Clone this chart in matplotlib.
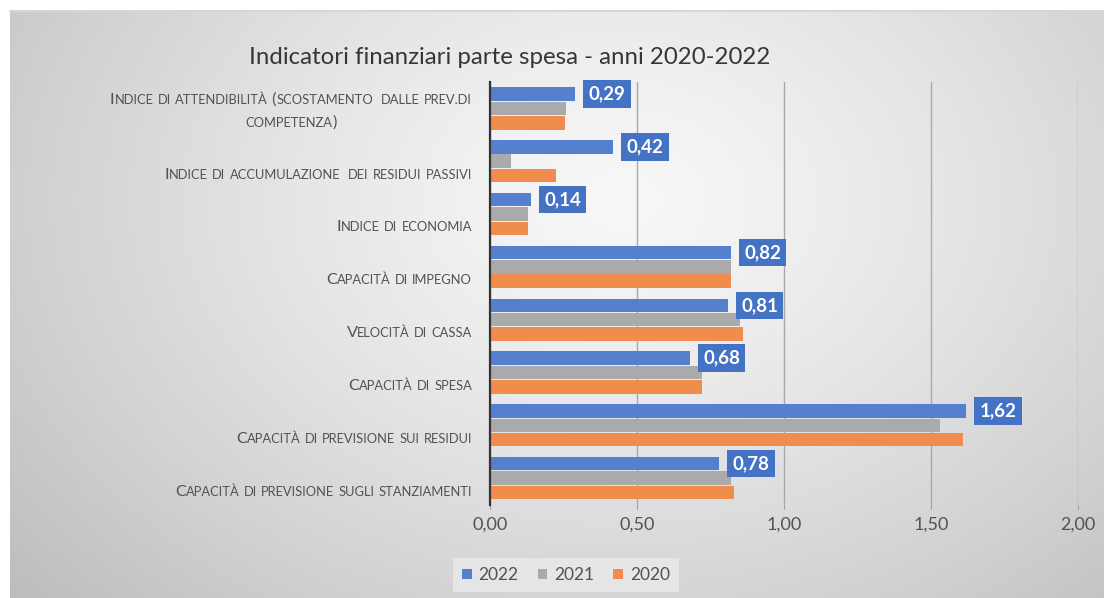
import numpy as np
import matplotlib
matplotlib.use("Agg")
import matplotlib.pyplot as plt
from matplotlib.offsetbox import TextArea, HPacker, VPacker, AnnotationBbox
from matplotlib.patches import Patch

categories = [
    "Indice di attendibilità (scostamento  dalle prev.di\ncompetenza)",
    "Indice di accumulazione  dei residui passivi",
    "Indice di economia",
    "Capacità di impegno",
    "Velocità di cassa",
    "Capacità di spesa",
    "Capacità di previsione sui residui",
    "Capacità di previsione sugli stanziamenti",
]
v2022 = [0.29, 0.42, 0.14, 0.82, 0.81, 0.68, 1.62, 0.78]
v2021 = [0.26, 0.07, 0.13, 0.82, 0.85, 0.72, 1.53, 0.82]
v2020 = [0.255, 0.225, 0.13, 0.82, 0.86, 0.72, 1.61, 0.83]
series_names = ["2022", "2021", "2020"]
xticks = [0.0, 0.5, 1.0, 1.5, 2.0]
title = "Indicatori finanziari parte spesa - anni 2020-2022"

C_BLUE = "#5580D0"
C_GRAY = "#AAAAAA"
C_ORANGE = "#F08C4C"
C_LABEL = "#4472C4"
TXT = "#525252"
FONT = "Lato"

W, H = 1104, 598
fig = plt.figure(figsize=(W / 100, H / 100), dpi=100)
fig.patch.set_facecolor("white")

# background gradient panel
bg = fig.add_axes([10 / W, 0, 1 - 10 / W, 1 - 11 / H], zorder=-10)
xx, yy = np.meshgrid(np.linspace(10, W, 300), np.linspace(11, H, 200))
d = np.sqrt(((xx - 620) / 700) ** 2 + ((yy - 200) / 520) ** 2)
val = np.clip(0.97 - 0.19 * d ** 1.3, 0.72, 1)
bg.imshow(np.dstack([val, val, val]), aspect="auto", extent=[0, 1, 0, 1], origin="upper", interpolation="bilinear")
bg.set_axis_off()
fig.add_artist(plt.Line2D([10 / W, 1], [1 - 11 / H, 1 - 11 / H], color="#d6d6d6", lw=1.5, transform=fig.transFigure))

left, right = 490 / W, 1078 / W
top, bottom = 1 - 82 / H, 1 - 504.5 / H
ax = fig.add_axes([left, bottom, right - left, top - bottom])
ax.set_facecolor("none")

n = len(categories)
y = np.arange(n)
off = 0.272
h = 0.255
ax.barh(y - off, v2022, height=h, color=C_BLUE, zorder=3, label=series_names[0])
ax.barh(y, v2021, height=h, color=C_GRAY, zorder=3, label=series_names[1])
ax.barh(y + off, v2020, height=h, color=C_ORANGE, zorder=3, label=series_names[2])

ax.set_xlim(0, 2.0)
ax.set_ylim(n - 0.5, -0.5)
ax.set_xticks(xticks)
ax.set_xticklabels([f"{t:.2f}".replace(".", ",") for t in xticks], fontsize=13, color=TXT, family=FONT)
ax.set_yticks([])
ax.tick_params(axis="x", length=3, color="#999999", pad=6)
ax.grid(axis="x", color="#a8a8a8", lw=1, zorder=1)
for s in ["top", "right", "bottom"]:
    ax.spines[s].set_visible(False)
ax.spines["left"].set_color("#333333")
ax.spines["left"].set_linewidth(1.6)
ax.spines["left"].set_zorder(5)

# data labels for 2022
for i, v in enumerate(v2022):
    ax.annotate(f"{v:.2f}".replace(".", ","), xy=(v, i - off), xytext=(9.5, 0), textcoords="offset points",
                ha="left", va="center", fontsize=13.5, fontweight="bold", color="white", family=FONT,
                bbox=dict(boxstyle="square,pad=0.28", fc=C_LABEL, ec="none"), zorder=6)


def smallcaps_line(text, big=11.6, small=9.3):
    runs = []
    cur, cur_small = "", None
    for ch in text:
        if ch == "." and cur_small is not None:
            is_small = cur_small
        else:
            is_small = ch.islower()
        if cur_small is None or is_small == cur_small:
            cur += ch
            cur_small = is_small
        else:
            runs.append((cur, cur_small))
            cur, cur_small = ch, is_small
    if cur:
        runs.append((cur, cur_small))
    kids = []
    for t, sm in runs:
        kids.append(TextArea(t.upper() if sm else t,
                             textprops=dict(fontsize=small if sm else big, color=TXT, family=FONT)))
    return HPacker(children=kids, align="baseline", pad=0, sep=0)


for i, cat in enumerate(categories):
    lines = cat.split("\n")
    if len(lines) > 1:
        box = VPacker(children=[smallcaps_line(l) for l in lines], align="center", pad=0, sep=6)
        yy_ = i + 0.05
    else:
        box = smallcaps_line(lines[0])
        yy_ = i + 0.255
    ab = AnnotationBbox(box, (-18 / 588, yy_), xycoords=ax.get_yaxis_transform(),
                        box_alignment=(1, 0.5), frameon=False, pad=0, annotation_clip=False)
    ax.add_artist(ab)

fig.text(510 / W, 1 - 57 / H, title, ha="center", va="center", fontsize=17.3, color="#363636", family=FONT)

handles = [Patch(facecolor=c) for c in (C_BLUE, C_GRAY, C_ORANGE)]
leg = fig.legend(handles, series_names, loc="center", bbox_to_anchor=(566 / W, 1 - 575 / H), ncol=3,
                 frameon=True, fancybox=False, handlelength=0.55, handleheight=0.55, handletextpad=0.4,
                 columnspacing=1.1, borderpad=0.5, prop=dict(family=FONT, size=12.5))
leg.get_frame().set_facecolor("#eaeaea")
leg.get_frame().set_edgecolor("none")
leg.get_frame().set_alpha(0.8)
for t in leg.get_texts():
    t.set_color(TXT)

fig.savefig("out.png", dpi=100)
